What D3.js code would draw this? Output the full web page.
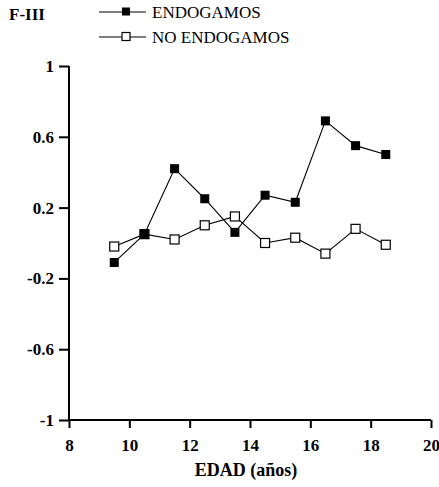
<!DOCTYPE html>
<html>
<head>
<meta charset="utf-8">
<script src="https://cdn.jsdelivr.net/npm/d3@7"></script>
<style>
  html, body { margin: 0; padding: 0; background: #fff; }
  svg { display: block; }
</style>
</head>
<body>
<svg id="chart" width="439" height="487"></svg>
<script>
// Ages (mid-point of each yearly interval)
const ages = [9.5, 10.5, 11.5, 12.5, 13.5, 14.5, 15.5, 16.5, 17.5, 18.5];
// Series values
const endogamos   = [-0.11, 0.05, 0.42, 0.25, 0.06, 0.27, 0.23, 0.69, 0.55, 0.50];
const noEndogamos = [-0.02, 0.05, 0.02, 0.10, 0.15, 0.00, 0.03, -0.06, 0.08, -0.01];
// Axis ticks
const xTicks = [8, 10, 12, 14, 16, 18, 20];
const yTicks = [-1, -0.6, -0.2, 0.2, 0.6, 1];
const seriesNames = ["ENDOGAMOS", "NO ENDOGAMOS"];

(function () {
  const FONT = '"Liberation Serif", "Times New Roman", Times, serif';
  const svg = d3.select("#chart");
  const mLeft = 69, mRight = 431, mTop = 66, mBottom = 420;

  const x = d3.scaleLinear().domain([8, 20]).range([mLeft, mRight]);
  const y = d3.scaleLinear().domain([-1, 1]).range([mBottom, mTop]);

  // Axes
  const xAxis = d3.axisBottom(x).tickValues(xTicks).tickSize(8).tickPadding(11)
    .tickFormat(d3.format("d"));
  const yAxis = d3.axisLeft(y).tickValues(yTicks).tickSize(10).tickPadding(5)
    .tickFormat(d => String(d));

  const gx = svg.append("g").attr("transform", `translate(0,${mBottom})`).call(xAxis);
  const gy = svg.append("g").attr("transform", `translate(${mLeft},0)`).call(yAxis);

  [gx, gy].forEach(g => {
    g.attr("font-family", FONT);
    g.select(".domain").attr("stroke", "#000").attr("stroke-width", 2);
    g.selectAll(".tick line").attr("stroke", "#000").attr("stroke-width", 2);
    g.selectAll(".tick text")
      .attr("font-family", FONT)
      .attr("font-weight", "bold").attr("font-size", 17).attr("fill", "#000");
  });
  gx.select(".domain").attr("d", `M${mLeft},0H${mRight}`);
  gy.select(".domain").attr("d", `M0,${mTop}V${mBottom}`);

  // Axis title
  svg.append("text")
    .attr("x", 246).attr("y", 476)
    .attr("text-anchor", "middle")
    .attr("font-family", FONT)
    .attr("font-weight", "bold").attr("font-size", 18)
    .text("EDAD (años)");

  // Panel label
  svg.append("text")
    .attr("x", 9).attr("y", 20)
    .attr("font-family", FONT)
    .attr("font-weight", "bold").attr("font-size", 17)
    .text("F-III");

  const line = d3.line().x((d, i) => x(ages[i])).y(d => y(d));
  const ms = 9;

  function drawSeries(values, filled) {
    svg.append("path").datum(values)
      .attr("d", line).attr("fill", "none")
      .attr("stroke", "#000").attr("stroke-width", 1.1);
    svg.append("g").selectAll("rect").data(values).join("rect")
      .attr("x", (d, i) => x(ages[i]) - ms / 2)
      .attr("y", d => y(d) - ms / 2)
      .attr("width", ms).attr("height", ms)
      .attr("fill", filled ? "#000" : "#fff")
      .attr("stroke", "#000").attr("stroke-width", filled ? 0 : 1.2);
  }
  drawSeries(noEndogamos, false);
  drawSeries(endogamos, true);

  // Legend
  const legend = svg.append("g");
  seriesNames.forEach((name, i) => {
    const ly = 12 + i * 25;
    legend.append("line").attr("x1", 99).attr("x2", 146)
      .attr("y1", ly).attr("y2", ly).attr("stroke", "#000").attr("stroke-width", 1.1);
    legend.append("rect")
      .attr("x", 126 - ms / 2 + 0.5).attr("y", ly - ms / 2)
      .attr("width", ms - 1).attr("height", ms - 1)
      .attr("fill", i === 0 ? "#000" : "#fff")
      .attr("stroke", "#000").attr("stroke-width", i === 0 ? 0 : 1.2);
    legend.append("text").attr("x", 152).attr("y", ly + 6)
      .attr("font-family", FONT).attr("font-size", 17)
      .attr("fill", "#000")
      .text(name);
  });
})();
</script>
</body>
</html>
